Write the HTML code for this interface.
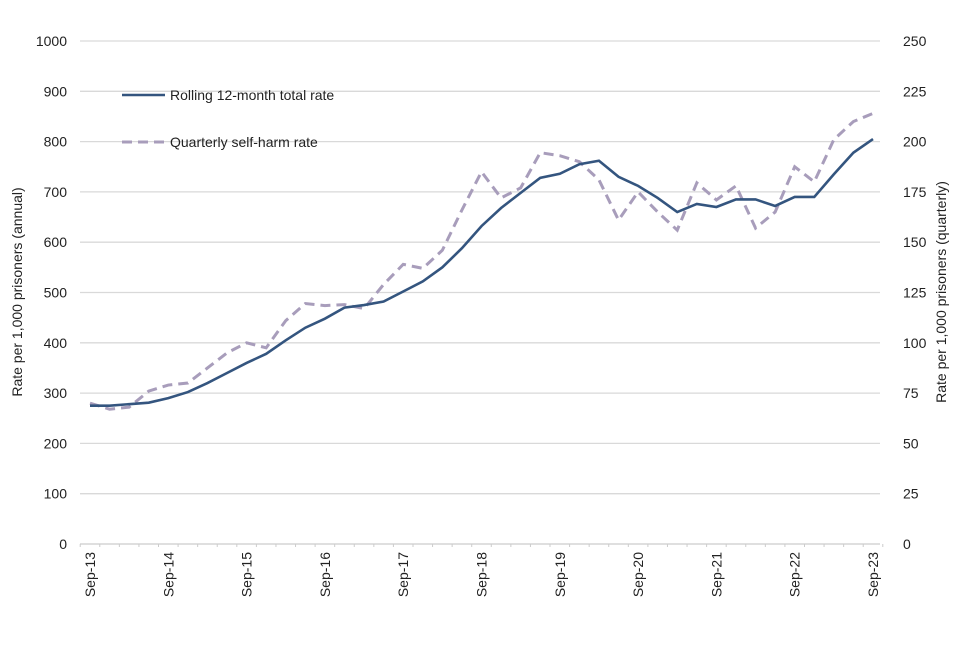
<!DOCTYPE html>
<html><head><meta charset="utf-8"><style>
body{margin:0;background:#fff;font-family:"Liberation Sans",Arial,sans-serif}
svg text{font-family:"Liberation Sans",Arial,sans-serif;fill:#222}
</style></head><body>
<svg id="c" width="960" height="640"></svg>
<script>
const categories=[];const yrs=['13','14','15','16','17','18','19','20','21','22','23'];
for(let i=0;i<41;i++){categories.push(i%4===0?'Sep-'+yrs[i/4]:'');}
const annualRate=[275,275,278,281,290,302,320,340,360,378,405,430,448,470,475,482,502,522,550,588,632,668,698,728,736,755,762,730,712,688,660,676,670,685,685,672,690,690,735,778,805];
const quarterlyRate=[70,67,68,76,79,80,87.5,95,100,97.5,111,119.5,118.5,119,117,129,139,137,146,166,185,172,177,194.5,193,190,181,161,175,165,156,179.5,171,178,157,165,187.5,180,201,210,214];
const leftTicks=[0,100,200,300,400,500,600,700,800,900,1000];
const rightTicks=[0,25,50,75,100,125,150,175,200,225,250];
const svg=document.getElementById('c');const NS='http://www.w3.org/2000/svg';
function mk(t,a,txt){const e=document.createElementNS(NS,t);for(const k in a)e.setAttribute(k,a[k]);if(txt!=null)e.textContent=txt;svg.appendChild(e);return e;}
const x0=90,x1=873,yTop=41,yBot=544;
const step=(x1-x0)/(categories.length-1);
const xs=i=>x0+step*i;
const yl=v=>yBot-(yBot-yTop)*v/1000;
const yr=v=>yBot-(yBot-yTop)*v/250;
leftTicks.forEach((t,i)=>{
 const g=mk('line',{x1:80,x2:880,y1:yl(t),y2:yl(t),stroke:t===0?'#ccc':'#d9d9d9','stroke-width':1.3});
 
 const l=mk('text',{x:67,y:yl(t)+5,'text-anchor':'end','font-size':14},t);
 
});
rightTicks.forEach(t=>{
 const l=mk('text',{x:903,y:yr(t)+5,'font-size':14},t);
 
});
for(let k=0;k<=categories.length;k++){
 const tx=xs(k)-step/2;
 const tk=mk('line',{x1:tx,x2:tx,y1:544,y2:547,stroke:'#ccc'});
 
}
categories.forEach((c,i)=>{
 if(c){const t=mk('text',{transform:`translate(${xs(i)+5},${552}) rotate(-90)`,'text-anchor':'end','font-size':14},c);
 }
});
const a=mk('text',{transform:'translate(22,292) rotate(-90)','text-anchor':'middle','font-size':14},'Rate per 1,000 prisoners (annual)');

const b=mk('text',{transform:'translate(946,292) rotate(-90)','text-anchor':'middle','font-size':14},'Rate per 1,000 prisoners (quarterly)');

const q=mk('polyline',{points:quarterlyRate.map((v,i)=>xs(i)+','+yr(v)).join(' '),fill:'none',stroke:'#a89dbb','stroke-width':3,'stroke-dasharray':'10,6'});

const s=mk('polyline',{points:annualRate.map((v,i)=>xs(i)+','+yl(v)).join(' '),fill:'none',stroke:'#34557f','stroke-width':2.6});

const l1=mk('line',{x1:122,x2:165,y1:95,y2:95,stroke:'#34557f','stroke-width':2.6});

const t1=mk('text',{x:170,y:100,'font-size':14},'Rolling 12-month total rate');

const l2=mk('line',{x1:122,x2:165,y1:142,y2:142,stroke:'#a89dbb','stroke-width':3,'stroke-dasharray':'10,6'});

const t2=mk('text',{x:170,y:147,'font-size':14},'Quarterly self-harm rate');

</script>
</body></html>
